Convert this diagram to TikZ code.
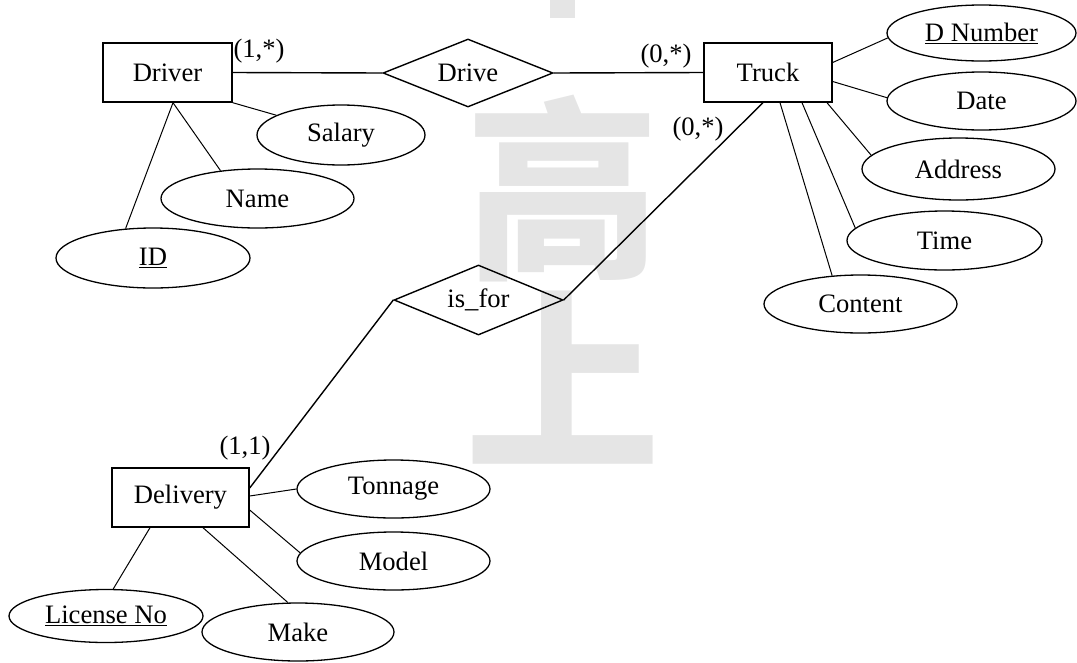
\documentclass[tikz,border=0pt]{standalone}
\usepackage{fontspec}
\setmainfont{Liberation Serif}
\newfontfamily\cjkfont{Noto Sans CJK TC}
\usetikzlibrary{shapes.geometric}
\begin{document}
\begin{tikzpicture}[x=1pt,y=-1pt,
  every node/.style={font=\fontsize{26.6}{31}\selectfont},
  entity/.style={draw, rectangle, line width=1.4pt, inner sep=0pt, minimum height=59pt},
  rel/.style={draw, diamond, line width=1.4pt, inner sep=0pt, aspect=2.5},
  attr/.style={draw, ellipse, line width=1.3pt, inner sep=0pt, minimum height=58pt, minimum width=193pt},
  card/.style={inner sep=0pt},
  relline/.style={line width=1.4pt},
  attline/.style={line width=1pt},
  wm/.style={text=black!10, inner sep=0pt, font=\cjkfont\bfseries\fontsize{195}{195}\selectfont}
]
\useasboundingbox (0,0) rectangle (1077,662);
% watermark
\fill[black!10] (550,0) rectangle (575,18);
\node[wm] (wm1) at (562.5,188.5) {高};
\node[wm] (wm2) at (562.5,378) {上};

% entities and relationships
\node[entity, minimum width=129pt] (driver) at (167.5,72.5) {Driver};
\node[entity, minimum width=128pt] (truck) at (768,72.5) {Truck};
\node[entity, minimum width=137pt] (delivery) at (180.5,497.5) {Delivery};
\node[rel, minimum width=170pt, minimum height=68pt] (drive) at (468,73) {Drive};
\node[rel, minimum width=169pt, minimum height=70pt] (isfor) at (478.5,300) {is\_for};

% attributes
\node[attr, minimum width=168pt, minimum height=60pt] (salary) at (341,135) {Salary};
\node[attr, minimum width=193pt, minimum height=59pt] (name) at (257.5,198.5) {Name};
\node[attr, minimum width=194pt, minimum height=60pt] (id) at (153,258) {\underline{ID}};
\node[attr, minimum width=189pt, minimum height=56pt] (dnumber) at (981.5,33) {\underline{D Number}};
\node[attr, minimum width=189pt, minimum height=58pt] (date) at (981.5,101) {Date};
\node[attr, minimum width=193pt, minimum height=62pt] (address) at (958.5,169) {Address};
\node[attr, minimum width=195pt, minimum height=59pt] (time) at (944.5,240.5) {Time};
\node[attr, minimum width=193pt, minimum height=58pt] (content) at (860.5,304) {Content};
\node[attr, minimum width=193pt, minimum height=58pt] (tonnage) at (393.5,489) {Tonnage};
\node[attr, minimum width=193pt, minimum height=58pt] (model) at (393.5,561) {Model};
\node[attr, minimum width=192pt, minimum height=58pt] (make) at (298,632) {Make};
\node[attr, minimum width=194pt, minimum height=53pt] (license) at (106,616) {\underline{License No}};

% cardinalities
\node[card] (c1) at (259,51) {(1,*)};
\node[card] (c2) at (666,56) {(0,*)};
\node[card] (c3) at (698,129) {(0,*)};
\node[card] (c4) at (245,448) {(1,1)};

% relationship connectors
\draw[relline] (driver.east) -- (drive.west);
\draw[relline] (drive.east) -- (truck.west);
\draw[relline] (isfor.east) -- ([xshift=-5pt]truck.south);
\draw[relline] (isfor.west) -- ([yshift=9.5pt]delivery.east);

% attribute connectors
\draw[attline] (driver.south east) -- (salary.163);
\draw[attline] ([xshift=5.5pt]driver.south) -- (name.143);
\draw[attline] ([xshift=5.5pt]driver.south) -- (id.133);
\draw[attline] ([yshift=10pt]truck.east) -- (dnumber.183);
\draw[attline] ([yshift=-9pt]truck.east) -- (date.178);
\draw[attline] ([xshift=59pt]truck.south) -- (address.171);
\draw[attline] ([xshift=34pt]truck.south) -- (time.172);
\draw[attline] ([xshift=12pt]truck.south) -- (content.135);
\draw[attline] ([yshift=1.5pt]delivery.east) -- (tonnage.180);
\draw[attline] ([yshift=-12.5pt]delivery.east) -- (model.175);
\draw[attline] ([xshift=22.5pt]delivery.south) -- (make.109);
\draw[attline] ([xshift=-30.5pt]delivery.south) -- (license.75);
\end{tikzpicture}
\end{document}
